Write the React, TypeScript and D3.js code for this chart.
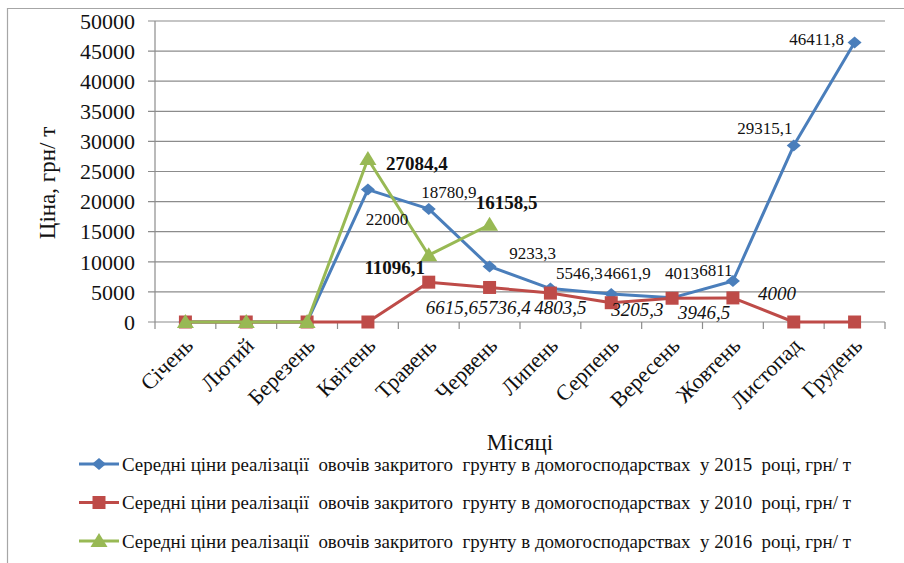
import React from 'react';
import * as d3 from 'd3';

const months = ['Січень', 'Лютий', 'Березень', 'Квітень', 'Травень', 'Червень', 'Липень', 'Серпень', 'Вересень', 'Жовтень', 'Листопад', 'Грудень'];
const prices2015 = [0, 0, 0, 22000, 18780.9, 9233.3, 5546.3, 4661.9, 4013, 6811, 29315.1, 46411.8];
const prices2010 = [0, 0, 0, 0, 6615.6, 5736.4, 4803.5, 3205.3, 3946.5, 4000, 0, 0];
const prices2016 = [0, 0, 0, 27084.4, 11096.1, 16158.5];
const legendText = 'Середні ціни реалізації  овочів закритого  грунту в домогосподарствах  у {year}  році, грн/ т';

// where each data label sits relative to its point (dx, dy), index -> offset
const offsets2015: Record<number, [number, number]> = {
  3: [19, 29], 4: [20, -17], 5: [43, -13], 6: [29, -16], 7: [16, -21],
  8: [10, -25], 9: [-17, -11], 10: [-29, -17], 11: [-38, -4],
};
const offsets2010: Record<number, [number, number]> = {
  4: [23, 25], 5: [15, 20], 6: [10, 14], 7: [26, 7], 8: [32, 14], 9: [44, -5],
};
const offsets2016: Record<number, [number, number]> = {
  3: [49, 4], 4: [-34, 12], 5: [17, -22],
};

const W = 904;
const H = 563;
const left = 155, right = 885, top = 21, bottom = 322;
const font = '"Liberation Serif", "DejaVu Serif", serif';

const diamond = 'M0,-6L7,0L0,6L-7,0Z';
const square = 'M-6.5,-6.5H6.5V6.5H-6.5Z';
const triangle = 'M0,-8L8.5,6L-8.5,6Z';

const fmt = (v: number) => String(v).replace('.', ',');

export default function App() {
  const x = d3.scaleBand<string>().domain(months).range([left, right]);
  const y = d3.scaleLinear().domain([0, 50000]).range([bottom, top]);
  const cx = (i: number) => (x(months[i]) as number) + x.bandwidth() / 2;
  const line = d3.line<number>().x((_, i) => cx(i)).y(d => y(d));

  const series = [
    { year: 2015, values: prices2015, color: '#4A7EBB', marker: diamond, offsets: offsets2015, size: 17, weight: 'normal', style: 'normal' },
    { year: 2010, values: prices2010, color: '#BE4B48', marker: square, offsets: offsets2010, size: 19, weight: 'normal', style: 'italic' },
    { year: 2016, values: prices2016, color: '#98B954', marker: triangle, offsets: offsets2016, size: 19, weight: 'bold', style: 'normal' },
  ];

  const ticks = y.ticks(10);
  const edges = d3.range(months.length + 1).map(i => left + i * x.step());

  return (
    <svg width={W} height={H} style={{ position: 'absolute', left: 0, top: 0, background: '#fff', fontFamily: font }}>
      <rect width={W} height={H} fill="#fff" />
      <path d={`M7.5,${H}V8.5H${W}`} fill="none" stroke="#a6a6a6" strokeWidth={1.2} />

      {/* grid + y axis */}
      {ticks.map(t => (
        <g key={t}>
          <line x1={148} x2={right} y1={y(t)} y2={y(t)} stroke="#8c8c8c" strokeWidth={1.2} />
          <text x={135} y={y(t)} dy="0.35em" textAnchor="end" fontSize={22} fill="#111">{t}</text>
        </g>
      ))}
      <line x1={left} x2={left} y1={top} y2={bottom} stroke="#8c8c8c" strokeWidth={1.2} />
      {edges.map((e, i) => (
        <line key={i} x1={e} x2={e} y1={bottom} y2={bottom + 7} stroke="#8c8c8c" strokeWidth={1.2} />
      ))}

      {/* x labels */}
      {months.map((m, i) => (
        <text key={m} transform={`translate(${cx(i) + 9},${bottom + 25}) rotate(-45)`} textAnchor="end" fontSize={22} fill="#111">{m}</text>
      ))}

      <text transform={`translate(55,183) rotate(-90)`} textAnchor="middle" fontSize={23} fill="#111">Ціна, грн/ т</text>
      <text x={520} y={450} textAnchor="middle" fontSize={23} fill="#111">Місяці</text>

      {/* series */}
      {series.map(s => (
        <g key={s.year}>
          <path d={line(s.values) ?? ''} fill="none" stroke={s.color} strokeWidth={3} strokeLinejoin="round" />
          {s.values.map((v, i) => (
            <path key={i} d={s.marker} transform={`translate(${cx(i)},${y(v)})`} fill={s.color} />
          ))}
        </g>
      ))}
      {series.map(s => (
        <g key={'l' + s.year}>
          {s.values.map((v, i) => {
            const o = s.offsets[i];
            if (!o) return null;
            return (
              <text key={i} x={cx(i) + o[0]} y={y(v) + o[1]} dy="0.35em" textAnchor="middle"
                fontSize={s.size} fontWeight={s.weight} fontStyle={s.style} fill="#111">{fmt(v)}</text>
            );
          })}
        </g>
      ))}

      {/* legend */}
      {series.map((s, k) => {
        const ly = 464 + k * 38.5;
        return (
          <g key={'g' + s.year}>
            <line x1={79} x2={119} y1={ly} y2={ly} stroke={s.color} strokeWidth={3} />
            <path d={s.marker} transform={`translate(99,${ly})`} fill={s.color} />
            <text x={122} y={ly} dy="0.35em" fontSize={19} fill="#111" textLength={729} lengthAdjust="spacingAndGlyphs"
              style={{ whiteSpace: 'pre' }}>{legendText.replace('{year}', String(s.year))}</text>
          </g>
        );
      })}
    </svg>
  );
}
